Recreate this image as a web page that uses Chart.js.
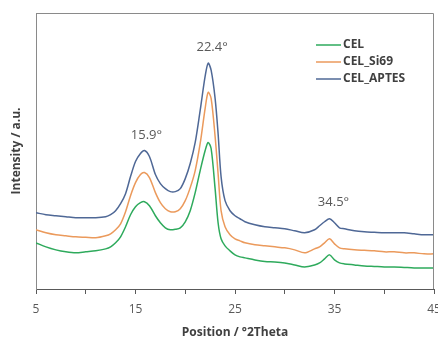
<!DOCTYPE html>
<html>
<head>
<meta charset="utf-8">
<script src="https://cdn.jsdelivr.net/npm/chart.js@4"></script>
<style>
  html, body { margin: 0; padding: 0; background: #fff; }
  #wrap { width: 438px; height: 339px; }
</style>
</head>
<body>
<div id="wrap"><canvas id="xrdChart" width="438" height="339"></canvas></div>
<script>
// 2Theta positions (deg)
const theta = [5, 6, 7, 8, 9, 10, 11, 12, 12.5, 13, 13.5, 14, 14.5, 15, 15.5, 15.9, 16.4, 17, 17.5, 18,
    18.5, 19, 19.5, 20, 20.5, 21, 21.5, 22, 22.3, 22.6, 23, 23.3, 23.6, 24, 24.5, 25, 25.5, 26, 27, 28,
    29, 30, 31, 32, 33, 33.5, 34, 34.5, 35, 35.5, 36, 37, 38, 39, 40, 41, 42, 43, 44, 45];

// intensities (a.u., offset curves)
const cel = [46, 42, 39, 37, 36, 37, 38, 40, 42, 46, 52, 62, 74, 82, 86, 87, 83, 73, 66, 61,
    59, 59.5, 61, 67, 78, 96, 118, 138, 146, 140, 100, 66, 50, 43, 38, 34, 32, 31, 29, 27.5,
    27, 26, 24, 22, 24, 26, 30, 34, 29, 26, 25, 24, 23, 22.5, 22, 22, 21.5, 21, 21, 21];
const celSi69 = [59, 56, 54, 53, 52, 51.5, 51, 53, 55, 59, 65, 77, 93, 106, 114, 116, 111, 96, 86, 80,
    77, 77, 80, 88, 101, 118, 145, 180, 196, 190, 152, 115, 78, 62, 54, 50, 48, 46, 44, 43,
    42, 41, 39, 36, 40, 42, 46, 50, 45, 41, 40, 39, 38.5, 38, 37, 37, 36, 36, 35, 35];
const celAptes = [76, 74, 73, 72, 71, 71, 71, 72, 74, 78, 85, 95, 112, 127, 135, 138, 132, 114, 105, 100,
    97, 97, 100, 110, 125, 146, 178, 212, 225, 218, 190, 155, 112, 88, 78, 73, 70, 67, 64, 62,
    61, 60, 58, 56, 59, 63, 67, 70, 66, 61, 60, 58, 57, 56.5, 56, 56, 56, 55, 54, 54];

const seriesNames = ['CEL', 'CEL_Si69', 'CEL_APTES'];
const seriesColors = ['#2eaa5c', '#eb9a5c', '#4f6896'];
const seriesValues = [cel, celSi69, celAptes];

const xTickLabels = [5, 15, 25, 35, 45];

// peak labels: text + where it sits (data units)
const peakText = ['15.9°', '22.4°', '34.5°'];
const peakX = [16.1, 22.7, 34.9];
const peakY = [153, 241, 86];

const textGray = '#595959';
const titleGray = '#404040';

const extras = {
    id: 'extras',
    afterDraw(chart) {
        const c = chart.ctx;
        const area = chart.chartArea;
        const xs = chart.scales.x;
        const ys = chart.scales.y;
        c.save();

        // top + right frame
        c.strokeStyle = '#8a8a8a';
        c.lineWidth = 1;
        c.beginPath();
        c.moveTo(area.left, area.top + 0.5);
        c.lineTo(area.right - 0.5, area.top + 0.5);
        c.lineTo(area.right - 0.5, area.bottom);
        c.stroke();

        // x tick labels
        c.fillStyle = textGray;
        c.font = '12px "Open Sans", sans-serif';
        c.textAlign = 'center';
        c.textBaseline = 'middle';
        xTickLabels.forEach(v => {
            c.fillText(String(v), xs.getPixelForValue(v), area.bottom + 21);
        });

        // axis titles
        c.fillStyle = titleGray;
        c.font = 'bold 12px "Open Sans", sans-serif';
        c.fillText('Position / °2Theta', (area.left + area.right) / 2, 333);
        c.save();
        c.translate(17, (area.top + area.bottom) / 2);
        c.rotate(-Math.PI / 2);
        c.fillText('Intensity / a.u.', 0, 0);
        c.restore();

        // peak annotations
        c.fillStyle = textGray;
        c.font = '13px "Open Sans", sans-serif';
        peakText.forEach((t, i) => {
            c.fillText(t, xs.getPixelForValue(peakX[i]), ys.getPixelForValue(peakY[i]));
        });

        // legend
        c.font = 'bold 12px "Open Sans", sans-serif';
        c.textAlign = 'left';
        c.fillStyle = titleGray;
        const legX = 316, legY = 45, rowH = 17;
        seriesNames.forEach((name, i) => {
            const y = legY + i * rowH;
            c.strokeStyle = seriesColors[i];
            c.lineWidth = 1.5;
            c.beginPath();
            c.moveTo(legX, y);
            c.lineTo(legX + 25, y);
            c.stroke();
            c.fillText(name, legX + 27, y);
        });

        c.restore();
    }
};

const ctx = document.getElementById('xrdChart').getContext('2d');
new Chart(ctx, {
    type: 'line',
    data: {
        datasets: seriesValues.map((vals, i) => ({
            label: seriesNames[i],
            data: theta.map((t, j) => ({ x: t, y: vals[j] })),
            borderColor: seriesColors[i],
            borderWidth: 1.5,
            pointRadius: 0,
            fill: false,
            tension: 0.3,
            order: 3 - i
        }))
    },
    options: {
        responsive: false,
        animation: false,
        layout: { padding: { left: 36, right: 4, top: 13, bottom: 45 } },
        plugins: {
            legend: { display: false },
            tooltip: { enabled: false }
        },
        scales: {
            x: {
                type: 'linear',
                min: 5,
                max: 45,
                ticks: { display: false, stepSize: 5 },
                grid: {
                    drawOnChartArea: false,
                    drawTicks: true,
                    tickLength: 5,
                    color: '#595959'
                },
                border: { display: true, color: '#595959', width: 1 }
            },
            y: {
                min: 0,
                max: 275,
                ticks: { display: false },
                grid: { display: false, drawTicks: false },
                border: { display: true, color: '#8a8a8a', width: 1 }
            }
        }
    },
    plugins: [extras]
});
</script>
</body>
</html>
